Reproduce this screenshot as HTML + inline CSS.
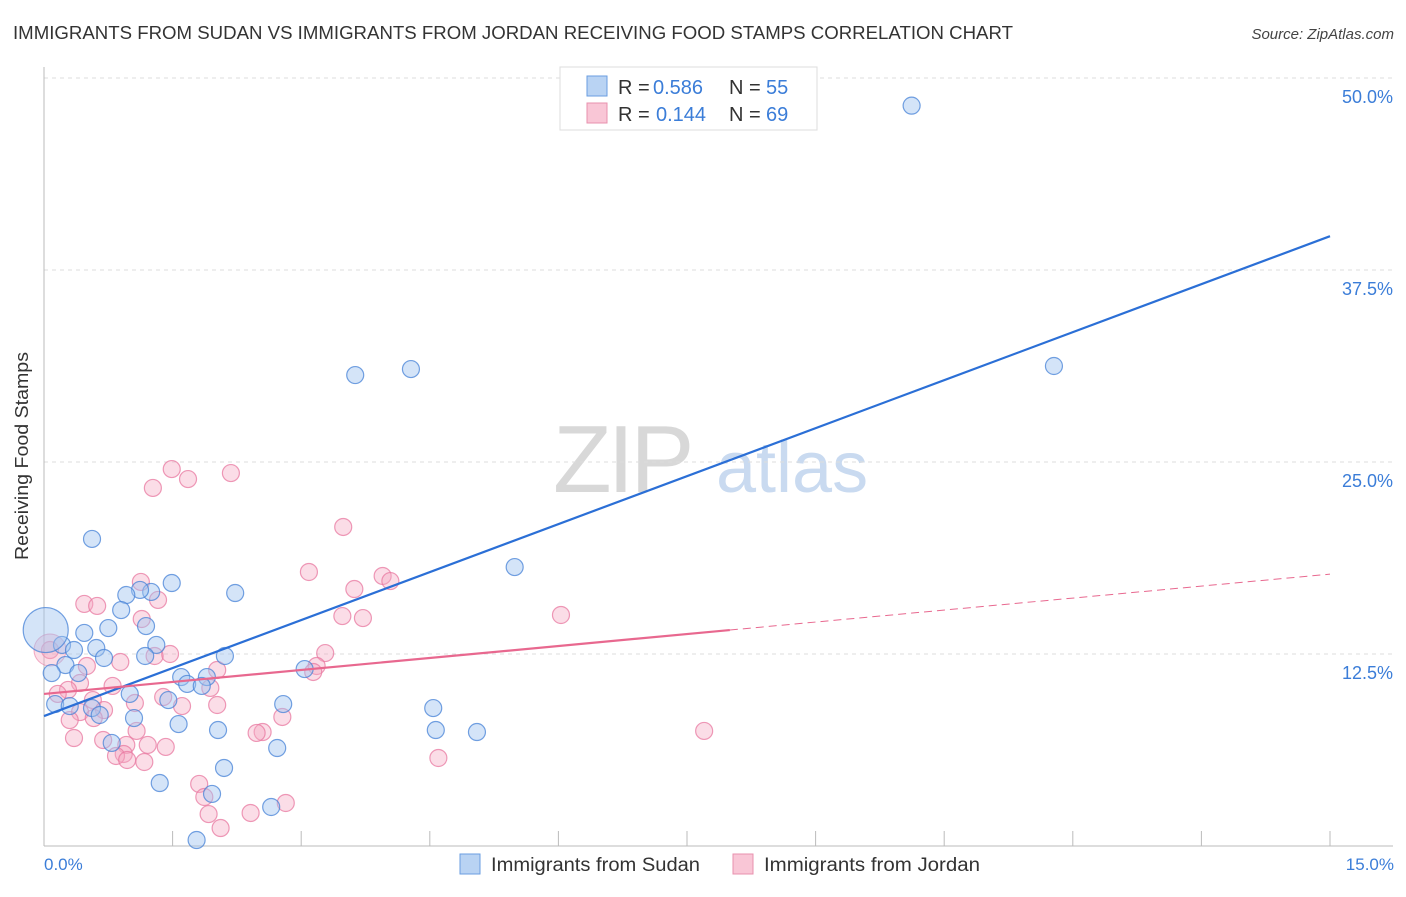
<!DOCTYPE html>
<html><head><meta charset="utf-8"><style>
body{margin:0;background:#fff;font-family:"Liberation Sans",sans-serif;}
svg text{font-family:"Liberation Sans",sans-serif;}
</style></head><body>
<svg id="chart" width="1406" height="892" xmlns="http://www.w3.org/2000/svg">
<text x="13" y="39" font-size="18" fill="#333" textLength="1000" lengthAdjust="spacingAndGlyphs">IMMIGRANTS FROM SUDAN VS IMMIGRANTS FROM JORDAN RECEIVING FOOD STAMPS CORRELATION CHART</text>
<text x="1394" y="39" font-size="15" fill="#444" font-style="italic" text-anchor="end">Source: ZipAtlas.com</text>
<g>
<text x="553" y="492" font-size="96" fill="#d8d8d8" font-family="Liberation Serif" letter-spacing="-4">ZIP</text>
<text x="716" y="492" font-size="72" fill="#c9daf0">atlas</text>
</g>
<g id="grid"></g>
<g id="axes"></g>
<g id="points"></g>
<g id="lines"></g>
<text x="28" y="456" font-size="18" fill="#333" text-anchor="middle" transform="rotate(-90 28 456)" textLength="208" lengthAdjust="spacingAndGlyphs">Receiving Food Stamps</text>
<text x="44" y="870" font-size="17" fill="#3b7dd8">0.0%</text>
<text x="1394" y="870" font-size="17" fill="#3b7dd8" text-anchor="end">15.0%</text>
<g>
<rect x="560" y="67" width="257" height="63" fill="#fff" stroke="#ddd"/>
<rect x="587" y="76" width="20" height="20" fill="#b9d3f3" stroke="#6a9ee0"/>
<text x="618" y="94" font-size="20" fill="#333">R =</text>
<text x="653" y="94" font-size="20" fill="#3b7dd8">0.586</text>
<text x="729" y="94" font-size="20" fill="#333">N =</text>
<text x="766" y="94" font-size="20" fill="#3b7dd8">55</text>
<rect x="587" y="103" width="20" height="20" fill="#f9c6d6" stroke="#e890ae"/>
<text x="618" y="121" font-size="20" fill="#333">R =</text>
<text x="656" y="121" font-size="20" fill="#3b7dd8">0.144</text>
<text x="729" y="121" font-size="20" fill="#333">N =</text>
<text x="766" y="121" font-size="20" fill="#3b7dd8">69</text>
</g>
<g>
<rect x="460" y="854" width="20" height="20" fill="#b9d3f3" stroke="#6a9ee0"/>
<text x="491" y="871" font-size="19" fill="#333" textLength="209" lengthAdjust="spacingAndGlyphs">Immigrants from Sudan</text>
<rect x="733" y="854" width="20" height="20" fill="#f9c6d6" stroke="#e890ae"/>
<text x="764" y="871" font-size="19" fill="#333" textLength="216" lengthAdjust="spacingAndGlyphs">Immigrants from Jordan</text>
</g>
</svg>
<script>
const yTicks=[12.5,25,37.5,50];
const yTickLabels=["12.5%","25.0%","37.5%","50.0%"];
const xTicks=[0,1.5,3,4.5,6,7.5,9,10.5,12,13.5,15];
const sudanX=[10.12,11.78,4.28,3.63,5.49,0.56,2.23,1.49,1.25,1.12,0.96,0.90,0.75,0.47,1.19,1.31,1.18,0.21,0.35,0.61,0.70,0.25,0.40,0.09,2.11,1.60,1.67,1.90,1.84,3.04,2.79,1.0,1.45,0.13,0.30,0.56,0.65,1.05,1.57,2.03,0.79,2.72,2.10,1.35,1.96,2.65,1.78,4.54,4.57,5.05,0.02];
const sudanY=[48.2,31.25,31.05,30.66,18.16,19.99,16.47,17.12,16.54,16.67,16.34,15.36,14.19,13.87,14.32,13.09,12.37,13.09,12.76,12.89,12.24,11.78,11.26,11.26,12.37,11.0,10.55,11.0,10.42,11.52,9.24,9.9,9.5,9.24,9.11,8.98,8.53,8.33,7.94,7.55,6.71,6.38,5.08,4.10,3.39,2.54,0.39,8.98,7.55,7.42,14.06];
const sudanR=[8,8,8,8,8,8,8,8,8,8,8,8,8,8,8,8,8,8,8,8,8,8,8,8,8,8,8,8,8,8,8,8,8,8,8,8,8,8,8,8,8,8,8,8,8,8,8,8,8,8,22];
const jordanX=[1.49,2.18,1.68,1.27,3.49,3.09,3.95,4.04,3.62,1.13,1.33,0.47,0.62,1.14,3.48,3.72,6.03,3.28,1.47,1.29,0.89,0.50,0.07,2.02,3.18,3.14,0.42,0.80,1.94,0.28,0.16,0.57,1.39,1.06,1.61,2.02,0.70,0.42,0.30,0.58,2.78,1.08,2.55,2.48,7.70,0.35,0.69,0.96,1.21,1.42,0.93,0.84,1.17,0.97,4.60,1.81,1.87,2.82,1.92,2.41,2.06];
const jordanY=[24.54,24.28,23.89,23.31,20.77,17.84,17.58,17.25,16.73,17.19,16.02,15.76,15.63,14.78,14.97,14.84,15.04,12.56,12.5,12.37,11.98,11.72,12.76,11.46,11.72,11.33,10.61,10.42,10.29,10.16,9.9,9.5,9.7,9.31,9.11,9.18,8.85,8.72,8.2,8.33,8.4,7.49,7.42,7.36,7.49,7.03,6.9,6.58,6.58,6.45,5.99,5.86,5.47,5.6,5.73,4.04,3.19,2.80,2.08,2.15,1.17];
const sudanTrend=[8.46,39.7];
const jordanTrend=[9.9,17.7];
const jordanSolidEnd=8.0;
const NS="http://www.w3.org/2000/svg";
const X=v=>44+v*(1330-44)/15;
const Y=v=>846-v*15.36;
function mk(tag,attrs,parent){const e=document.createElementNS(NS,tag);for(const k in attrs)e.setAttribute(k,attrs[k]);parent.appendChild(e);return e;}
const grid=document.getElementById('grid'),axes=document.getElementById('axes'),pts=document.getElementById('points'),lines=document.getElementById('lines');
yTicks.forEach((t,i)=>{
 const l=mk('line',{x1:44,x2:1393,y1:Y(t),y2:Y(t),stroke:'#ddd','stroke-dasharray':'4,4'},grid);
 
 
 const tx=mk('text',{x:1393,y:Y(t)+25,'font-size':18,fill:'#3b7dd8','text-anchor':'end'},grid);
 tx.textContent=yTickLabels[i];
 
 
});
const ya=mk('line',{x1:44,x2:44,y1:67,y2:846,stroke:'#bbb'},axes);


const xa=mk('line',{x1:44,x2:1393,y1:846,y2:846,stroke:'#bbb'},axes);


xTicks.forEach(t=>{
 const tk=mk('line',{x1:X(t),x2:X(t),y1:831,y2:846,stroke:'#bbb'},axes);
 
 
});
jordanX.forEach((v,i)=>{
 const c=mk('circle',{cx:X(v),cy:Y(jordanY[i]),r:8.5,fill:'rgba(246,170,196,0.4)',stroke:'rgba(232,120,160,0.75)','stroke-width':1.2},pts);
 
 
});
const jb=mk('circle',{cx:X(0.07),cy:Y(12.76),r:16,fill:'rgba(246,170,196,0.4)',stroke:'rgba(232,120,160,0.6)'},pts);


sudanX.forEach((v,i)=>{
 const c=mk('circle',{cx:X(v),cy:Y(sudanY[i]),r:sudanR[i]+0.5,fill:'rgba(160,196,240,0.45)',stroke:'rgba(70,130,215,0.75)','stroke-width':1.2},pts);
 
 
});
const bl=mk('line',{x1:X(0),y1:Y(sudanTrend[0]),x2:X(15),y2:Y(sudanTrend[1]),stroke:'#2b6fd6','stroke-width':2.2},lines);


const jAt=x=>jordanTrend[0]+(jordanTrend[1]-jordanTrend[0])*x/15;
const pl=mk('line',{x1:X(0),y1:Y(jAt(0)),x2:X(jordanSolidEnd),y2:Y(jAt(jordanSolidEnd)),stroke:'#e8688f','stroke-width':2.2},lines);


const pd=mk('line',{x1:X(jordanSolidEnd),y1:Y(jAt(jordanSolidEnd)),x2:X(15),y2:Y(jAt(15)),stroke:'#e8688f','stroke-width':1,'stroke-dasharray':'8,5'},lines);


</script>
</body></html>
